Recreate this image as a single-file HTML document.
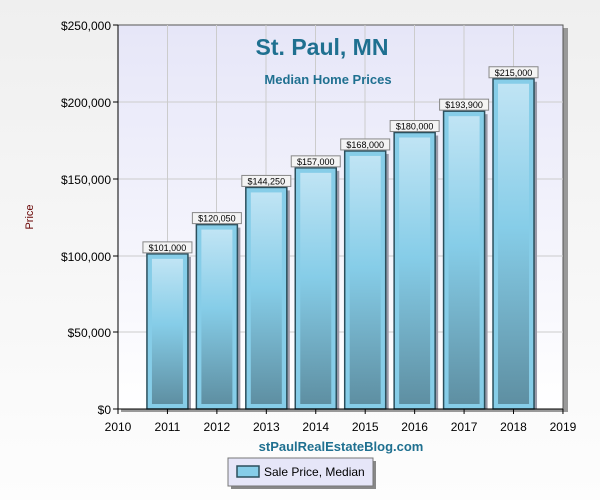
<!DOCTYPE html>
<html><head><style>
html,body{margin:0;padding:0;width:600px;height:500px;}
body{overflow:hidden;background:linear-gradient(#efefef,#fdfdfd);font-family:"Liberation Sans",sans-serif;}
svg{display:block;}
</style></head><body>
<svg width="600" height="500" xmlns="http://www.w3.org/2000/svg" font-family="Liberation Sans, sans-serif">
<defs>
<linearGradient id="bg" x1="0" y1="0" x2="0" y2="1"><stop offset="0" stop-color="#e6e6f8"/><stop offset="1" stop-color="#ffffff"/></linearGradient>
<linearGradient id="inner" x1="0" y1="0" x2="0" y2="1"><stop offset="0" stop-color="#c0e4f4"/><stop offset="0.45" stop-color="#86cde8"/><stop offset="1" stop-color="#5e8fa2"/></linearGradient>
</defs>
<rect x="121" y="28" width="447" height="384" fill="#999"/>
<rect x="118" y="25" width="445" height="384" fill="url(#bg)" stroke="#555" stroke-width="1"/>
<g stroke="#cccccc" stroke-width="1">
<line x1="118" y1="102" x2="563" y2="102"/><line x1="118" y1="179" x2="563" y2="179"/><line x1="118" y1="256" x2="563" y2="256"/><line x1="118" y1="332" x2="563" y2="332"/>
<line x1="167.5" y1="25" x2="167.5" y2="409"/><line x1="216.5" y1="25" x2="216.5" y2="409"/><line x1="266" y1="25" x2="266" y2="409"/><line x1="315.5" y1="25" x2="315.5" y2="409"/><line x1="365" y1="25" x2="365" y2="409"/><line x1="414.5" y1="25" x2="414.5" y2="409"/><line x1="464" y1="25" x2="464" y2="409"/><line x1="513.5" y1="25" x2="513.5" y2="409"/>
</g>
<text x="322" y="55" text-anchor="middle" font-size="23" font-weight="bold" fill="#1f7090">St. Paul, MN</text>
<text x="328" y="84" text-anchor="middle" font-size="13" font-weight="bold" fill="#1f7090">Median Home Prices</text>
<g id="bars"></g>
<line x1="118" y1="25" x2="118" y2="409" stroke="#000"/>
<line x1="118" y1="409" x2="563" y2="409" stroke="#000"/>
<g font-size="12" fill="#000" text-anchor="end">
<text x="111" y="30">$250,000</text><text x="111" y="107">$200,000</text><text x="111" y="184">$150,000</text><text x="111" y="261">$100,000</text><text x="111" y="337">$50,000</text><text x="111" y="414">$0</text>
</g>
<g stroke="#000"><line x1="113" y1="25" x2="118" y2="25"/><line x1="113" y1="102" x2="118" y2="102"/><line x1="113" y1="179" x2="118" y2="179"/><line x1="113" y1="256" x2="118" y2="256"/><line x1="113" y1="332" x2="118" y2="332"/><line x1="113" y1="409" x2="118" y2="409"/></g>
<text x="33" y="217" font-size="11" fill="#600" transform="rotate(-90 33 217)" text-anchor="middle">Price</text>
<text x="341" y="451" text-anchor="middle" font-size="13" font-weight="bold" fill="#1f7090">stPaulRealEstateBlog.com</text>
<rect x="231" y="461" width="145" height="28" fill="#888"/>
<rect x="228" y="458" width="145" height="28" fill="#e6e6f8" stroke="#777"/>
<rect x="237" y="466" width="22" height="11" fill="#86cde8" stroke="#2b4f5c" stroke-width="1.5"/>
<text x="264" y="476" font-size="12" fill="#000">Sale Price, Median</text>
</svg>
<script>
const vals=[101000,120050,144250,157000,168000,180000,193900,215000];
const labs=["$101,000","$120,050","$144,250","$157,000","$168,000","$180,000","$193,900","$215,000"];
const g=document.getElementById('bars');
let html="";
vals.forEach((v,i)=>{
 const cx=118+(i+1)*49.44;const top=409-v/250000*384;const x=cx-20.5;const h=409-top;
 html+=`<rect x="${x+3}" y="${top+3}" width="41" height="${h-3}" fill="#9a9aa8"/>`;
 html+=`<rect x="${x}" y="${top}" width="41" height="${h}" fill="#86cde8" stroke="#2b4f5c" stroke-width="1.5"/>`;
 html+=`<rect x="${x+5}" y="${top+5}" width="31" height="${h-10}" fill="url(#inner)"/>`;
 html+=`<rect x="${cx-24.5}" y="${top-12}" width="49" height="11" fill="#f4f4f4" stroke="#888"/>`;
 html+=`<text x="${cx}" y="${top-3}" text-anchor="middle" font-size="9" fill="#000">${labs[i]}</text>`;
});
for(let y=2010;y<=2019;y++){const x=118+(y-2010)*49.44;
 html+=`<line x1="${x}" y1="409" x2="${x}" y2="414" stroke="#000"/><text x="${x}" y="431" text-anchor="middle" font-size="12" fill="#000">${y}</text>`;}
g.innerHTML=html;
</script>
</body></html>
